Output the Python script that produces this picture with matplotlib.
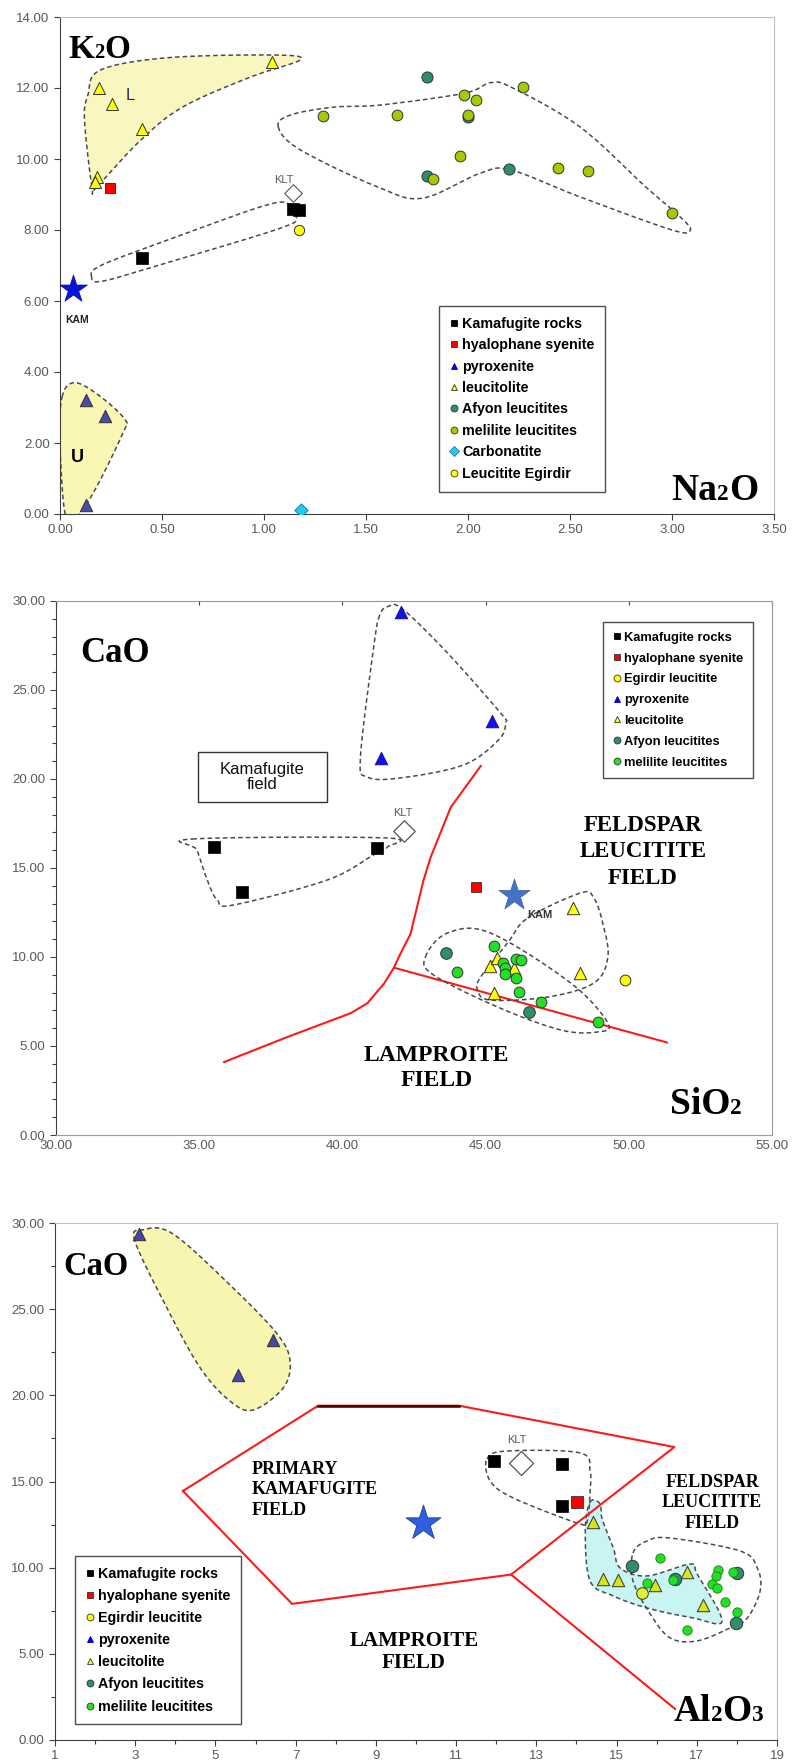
import numpy as np
import matplotlib.pyplot as plt
from matplotlib.lines import Line2D
from matplotlib.patches import Rectangle
from matplotlib.offsetbox import TextArea, HPacker, AnchoredOffsetbox
from matplotlib.ticker import MultipleLocator, FixedLocator, FormatStrFormatter

plt.rcParams['font.family'] = ['Liberation Sans', 'DejaVu Sans']

# ---------------- panel 1 : K2O vs Na2O ----------------
p1_kam_x = [0.40, 1.14, 1.17]
p1_kam_y = [7.20, 8.60, 8.55]
p1_hyal_x = [0.245]
p1_hyal_y = [9.17]
p1_pyrox_x = [0.127, 0.22, 0.127]
p1_pyrox_y = [3.20, 2.75, 0.25]
p1_leuc_x = [0.19, 0.255, 0.40, 1.04, 0.18, 0.17]
p1_leuc_y = [12.0, 11.55, 10.85, 12.73, 9.50, 9.35]
p1_afyon_x = [1.80, 2.00, 1.80, 2.20]
p1_afyon_y = [12.30, 11.18, 9.53, 9.72]
p1_melil_x = [1.29, 1.65, 1.98, 2.04, 2.00, 2.27, 1.96, 1.83, 2.44, 2.59, 3.00]
p1_melil_y = [11.20, 11.25, 11.80, 11.66, 11.24, 12.03, 10.08, 9.44, 9.75, 9.66, 8.48]
p1_carb_x = [1.18]
p1_carb_y = [0.10]
p1_egir_x = [1.17]
p1_egir_y = [8.00]
p1_klt_x = [1.14]
p1_klt_y = [9.05]
p1_star_x = [0.065]
p1_star_y = [6.33]

p1_hull_L_x = [0.157, 0.12, 0.137, 0.196, 0.52, 1.04, 1.18, 0.93, 0.60, 0.39, 0.18]
p1_hull_L_y = [9.21, 11.1, 11.8, 12.5, 12.85, 12.93, 12.8, 12.3, 11.46, 10.5, 9.21]
p1_hull_U_x = [0.01, 0.074, 0.20, 0.32, 0.31, 0.18, 0.08, 0.025, 0.0]
p1_hull_U_y = [3.3, 3.7, 3.3, 2.65, 2.3, 0.77, -0.1, 0.0, 2.0]
p1_hull_kam_x = [0.155, 0.20, 0.52, 1.01, 1.13, 1.16, 1.08, 0.52, 0.21]
p1_hull_kam_y = [6.68, 7.00, 7.70, 8.70, 8.70, 8.37, 8.05, 7.07, 6.56]
p1_hull_mel_x = [1.07, 1.13, 1.34, 1.57, 1.98, 2.11, 2.22, 2.55, 2.87, 3.04, 3.09,
                 3.00, 2.55, 2.21, 2.06, 1.78, 1.57, 1.18]
p1_hull_mel_y = [10.9, 11.24, 11.46, 11.52, 11.85, 12.15, 12.0, 10.9, 9.22, 8.37, 8.0,
                 8.0, 8.93, 9.69, 9.6, 8.9, 9.18, 10.25]

# ---------------- panel 2 : CaO vs SiO2 ----------------
p2_kam_x = [35.5, 41.2, 36.5]
p2_kam_y = [16.2, 16.1, 13.65]
p2_hyal_x = [44.65]
p2_hyal_y = [13.93]
p2_pyrox_x = [42.06, 45.24, 41.36]
p2_pyrox_y = [29.4, 23.26, 21.2]
p2_leuc_x = [48.05, 48.30, 45.15, 45.40, 45.98, 45.30]
p2_leuc_y = [12.75, 9.10, 9.50, 9.95, 9.38, 7.98]
p2_egir_x = [49.86]
p2_egir_y = [8.70]
p2_afyon_x = [43.6, 46.5]
p2_afyon_y = [10.2, 6.9]
p2_melil_x = [45.28, 44.0, 45.6, 45.66, 45.66, 46.05, 46.22, 46.05, 46.16, 46.92, 48.92]
p2_melil_y = [10.6, 9.16, 9.66, 9.38, 9.05, 9.90, 9.83, 8.80, 8.03, 7.47, 6.35]
p2_klt_x = [42.15]
p2_klt_y = [17.1]
p2_star_x = [45.98]
p2_star_y = [13.5]

p2_curve_x = [35.87, 38.07, 40.30, 40.87, 41.45, 41.80, 42.00, 42.38, 42.50, 42.83, 43.08, 43.78, 44.83]
p2_curve_y = [4.10, 5.50, 6.85, 7.40, 8.50, 9.40, 10.10, 11.30, 12.10, 14.30, 15.60, 18.40, 20.73]
p2_line_x = [41.80, 51.33]
p2_line_y = [9.40, 5.20]

p2_hull_pyr_x = [41.30, 41.10, 40.63, 40.87, 42.03, 44.23, 45.45, 45.70, 45.52, 43.67, 42.10, 41.60]
p2_hull_pyr_y = [29.20, 27.50, 21.24, 20.11, 20.06, 20.79, 22.19, 23.15, 23.71, 27.08, 29.55, 29.70]
p2_hull_kam_x = [34.76, 41.50, 41.57, 41.08, 39.48, 36.19, 35.63, 35.28, 34.93]
p2_hull_kam_y = [16.63, 16.69, 16.18, 15.73, 14.33, 12.92, 13.20, 14.33, 16.00]
p2_hull_mel_x = [42.9, 43.67, 45.17, 47.97, 49.27, 48.92, 47.62, 45.42, 43.18]
p2_hull_mel_y = [10.0, 11.35, 11.35, 8.54, 6.29, 5.79, 5.90, 7.19, 8.99]
p2_hull_leu_x = [46.47, 48.32, 48.78, 49.09, 49.27, 48.78, 47.17, 45.17, 44.72, 44.83, 45.77]
p2_hull_leu_y = [12.19, 13.60, 13.31, 11.91, 10.00, 8.54, 7.75, 7.58, 8.15, 8.88, 10.79]

# ---------------- panel 3 : CaO vs Al2O3 ----------------
p3_xticks = [1, 3, 5, 7, 9, 11, 13, 15, 17, 19]
p3_kam_x = [11.95, 13.64, 13.65]
p3_kam_y = [16.2, 16.0, 13.6]
p3_hyal_x = [14.02]
p3_hyal_y = [13.8]
p3_pyrox_x = [3.09, 6.44, 5.56]
p3_pyrox_y = [29.37, 23.2, 21.2]
p3_leuc_x = [14.42, 14.67, 15.04, 15.96, 16.76, 17.16]
p3_leuc_y = [12.65, 9.34, 9.28, 9.00, 9.77, 7.82]
p3_egir_x = [15.64]
p3_egir_y = [8.55]
p3_afyon_x = [15.39, 16.46, 18.00, 17.98]
p3_afyon_y = [10.10, 9.34, 9.70, 6.80]
p3_melil_x = [16.09, 15.76, 16.41, 17.53, 17.48, 17.91, 17.38, 17.51, 17.71, 18.01, 16.76]
p3_melil_y = [10.56, 9.11, 9.28, 9.87, 9.52, 9.75, 9.05, 8.82, 8.01, 7.43, 6.38]
p3_klt_x = [12.62]
p3_klt_y = [16.1]
p3_star_x = [10.18]
p3_star_y = [12.6]

p3_field_x = [4.19, 7.56, 11.07, 16.44, 12.37, 6.91, 4.19]
p3_field_y = [14.45, 19.4, 19.4, 17.0, 9.6, 7.9, 14.45]
p3_top_x = [7.56, 11.07]
p3_top_y = [19.4, 19.4]
p3_branch_x = [12.37, 16.46]
p3_branch_y = [9.6, 1.8]

p3_hull_pyr_x = [2.99, 3.19, 3.94, 5.44, 6.54, 6.86, 6.69, 5.94, 5.36, 4.62, 3.79]
p3_hull_pyr_y = [28.96, 29.6, 29.37, 26.23, 23.56, 22.0, 20.43, 19.15, 19.67, 21.59, 25.07]
p3_hull_kam_x = [11.77, 12.27, 14.09, 14.34, 14.34, 14.27, 14.02, 12.42, 11.85]
p3_hull_kam_y = [16.31, 16.77, 16.66, 15.61, 14.45, 12.71, 12.59, 14.05, 15.03]
p3_hull_leu_x = [14.34, 14.59, 14.64, 14.92, 15.09, 15.76, 16.84, 17.01, 17.63, 16.91,
                 15.76, 14.92, 14.34, 14.22]
p3_hull_leu_y = [13.81, 13.70, 12.83, 11.14, 9.98, 9.52, 10.21, 9.63, 6.91, 7.08,
                 7.66, 8.36, 9.23, 12.13]
p3_hull_mel_x = [15.41, 15.76, 16.34, 18.08, 18.51, 18.58, 18.26, 17.83, 17.01, 16.34, 15.84, 15.41]
p3_hull_mel_y = [10.85, 11.55, 11.72, 10.97, 9.98, 8.65, 7.08, 6.50, 5.75, 5.92, 7.31, 9.23]

EDGE = '#333333'
TEAL = '#2f8f6a'


def smooth_closed(xs, ys, n=24):
    pts = np.column_stack([xs, ys]).astype(float)
    m = len(pts)
    t = np.linspace(0, 1, n, endpoint=False)[:, None]
    segs = []
    for i in range(m):
        p0, p1, p2, p3 = pts[(i - 1) % m], pts[i], pts[(i + 1) % m], pts[(i + 2) % m]
        segs.append(0.5 * (2 * p1 + (-p0 + p2) * t + (2 * p0 - 5 * p1 + 4 * p2 - p3) * t ** 2
                           + (-p0 + 3 * p1 - 3 * p2 + p3) * t ** 3))
    out = np.vstack(segs + [pts[:1]])
    return out[:, 0], out[:, 1]


def hull(ax, xs, ys, fill=None):
    x, y = smooth_closed(xs, ys)
    if fill:
        ax.fill(x, y, color=fill, lw=0, zorder=1)
    ax.plot(x, y, color='#4a4a4a', lw=1.1, ls=(0, (3, 2)), zorder=2)


def chem_label(ax, parts, loc, anchor, size):
    kids = []
    for txt, sub in parts:
        kids.append(TextArea(txt, textprops=dict(family='Liberation Serif', weight='bold',
                                                 size=size * 0.62 if sub else size)))
    box = HPacker(children=kids, align='baseline', pad=0, sep=0)
    ab = AnchoredOffsetbox(loc=loc, child=box, pad=0, borderpad=0, frameon=False,
                           bbox_to_anchor=anchor, bbox_transform=ax.transAxes)
    ax.add_artist(ab)


def legend(ax, items, anchor, loc, size, spacing):
    handles = [Line2D([], [], ls='none', marker=m, markersize=5, mfc=c, mec=ec, mew=0.6, label=lab)
               for lab, m, c, ec in items]
    leg = ax.legend(handles=handles, loc=loc, bbox_to_anchor=anchor, frameon=True, fancybox=False,
                    edgecolor='#222222', prop=dict(family='Liberation Sans', weight='bold', size=size),
                    handlelength=0.6, handletextpad=0.25, labelspacing=spacing, borderpad=0.75,
                    borderaxespad=0)
    leg.get_frame().set_linewidth(1.0)
    leg.set_zorder(10)


def style_axes(ax, top_right='#bfbfbf'):
    for s in ['left', 'bottom']:
        ax.spines[s].set_color('#404040')
    for s in ['top', 'right']:
        ax.spines[s].set_color(top_right)
    ax.tick_params(colors='#404040', labelcolor='#595959', labelsize=9.5, length=4, width=0.8)
    ax.tick_params(which='minor', colors='#404040', length=3, width=0.8)


fig = plt.figure(figsize=(8.03, 17.63), dpi=100, facecolor='white')

# ================= panel 1 =================
ax1 = fig.add_axes([60 / 803, 1 - 514 / 1763, 714 / 803, 497 / 1763])
ax1.set_xlim(0, 3.5)
ax1.set_ylim(0, 14)
ax1.xaxis.set_major_locator(MultipleLocator(0.5))
ax1.yaxis.set_major_locator(MultipleLocator(2))
ax1.xaxis.set_major_formatter(FormatStrFormatter('%.2f'))
ax1.yaxis.set_major_formatter(FormatStrFormatter('%.2f'))
style_axes(ax1)

hull(ax1, p1_hull_L_x, p1_hull_L_y, fill='#faf6c0')
hull(ax1, p1_hull_U_x, p1_hull_U_y, fill='#faf6b4')
hull(ax1, p1_hull_kam_x, p1_hull_kam_y)
hull(ax1, p1_hull_mel_x, p1_hull_mel_y)

ax1.scatter(p1_leuc_x, p1_leuc_y, s=75, marker='^', c='#ffff00', edgecolors=EDGE, lw=0.7, zorder=3)
ax1.scatter(p1_hyal_x, p1_hyal_y, s=60, marker='s', c='#ff0000', edgecolors=EDGE, lw=0.7, zorder=3)
ax1.scatter(p1_kam_x, p1_kam_y, s=64, marker='s', c='black', edgecolors='black', lw=0.5, zorder=3)
ax1.scatter(p1_klt_x, p1_klt_y, s=80, marker='D', c='white', edgecolors='#555555', lw=0.8, zorder=3)
ax1.scatter(p1_egir_x, p1_egir_y, s=55, marker='o', c='#ffff00', edgecolors=EDGE, lw=0.7, zorder=3)
ax1.scatter(p1_star_x, p1_star_y, s=440, marker='*', c='#0a14d8', edgecolors='#0a14a0', lw=0.5, zorder=3)
ax1.scatter(p1_pyrox_x, p1_pyrox_y, s=80, marker='^', c='#4a4aa8', edgecolors=EDGE, lw=0.7, zorder=3)
ax1.scatter(p1_carb_x, p1_carb_y, s=45, marker='D', c='#22ccf0', edgecolors='#2277aa', lw=0.7, zorder=3)
ax1.scatter(p1_afyon_x, p1_afyon_y, s=64, marker='o', c=TEAL, edgecolors=EDGE, lw=0.7, zorder=3)
ax1.scatter(p1_melil_x, p1_melil_y, s=60, marker='o', c='#a2cc00', edgecolors=EDGE, lw=0.7, zorder=4)

ax1.text(p1_klt_x[0] - 0.045, p1_klt_y[0] + 0.35, 'KLT', fontsize=8, color='#595959', ha='center', va='center')
ax1.text(0.083, 5.46, 'KAM', fontsize=7.5, weight='bold', color='#222222', ha='center', va='center')
ax1.text(0.343, 11.8, 'L', fontsize=12, color='#1f2d5a', ha='center', va='center')
ax1.text(0.083, 1.58, 'U', fontsize=13, weight='bold', color='black', ha='center', va='center')

chem_label(ax1, [('K', False), ('2', True), ('O', False)], 'upper left', (0.012, 0.965), 24)
chem_label(ax1, [('Na', False), ('2', True), ('O', False)], 'lower right', (0.978, 0.012), 27)

legend(ax1, [('Kamafugite rocks', 's', 'black', 'black'),
             ('hyalophane syenite', 's', '#ff0000', EDGE),
             ('pyroxenite', '^', '#0000ff', '#0000aa'),
             ('leucitolite', '^', '#ffff00', EDGE),
             ('Afyon leucitites', 'o', TEAL, EDGE),
             ('melilite leucitites', 'o', '#a2cc00', EDGE),
             ('Carbonatite', 'D', '#22ccf0', '#2277aa'),
             ('Leucitite Egirdir', 'o', '#ffff00', EDGE)],
       anchor=(0.531, 0.4185), loc='upper left', size=10.3, spacing=0.52)

# ================= panel 2 =================
ax2 = fig.add_axes([56 / 803, 1 - 1135 / 1763, 716 / 803, 534 / 1763])
ax2.set_xlim(30, 55)
ax2.set_ylim(0, 30)
ax2.xaxis.set_major_locator(MultipleLocator(5))
ax2.yaxis.set_major_locator(MultipleLocator(5))
ax2.yaxis.set_minor_locator(MultipleLocator(1))
ax2.xaxis.set_major_formatter(FormatStrFormatter('%.2f'))
ax2.yaxis.set_major_formatter(FormatStrFormatter('%.2f'))
style_axes(ax2, top_right='#999999')
ax2.spines['bottom'].set_color('#a0a0a0')
ax2.tick_params(axis='x', bottom=False, top=True, direction='in', length=3)

ax2.plot(p2_curve_x, p2_curve_y, color='#ff1a1a', lw=1.5, zorder=2)
ax2.plot(p2_line_x, p2_line_y, color='#ff1a1a', lw=1.5, zorder=2)
hull(ax2, p2_hull_pyr_x, p2_hull_pyr_y)
hull(ax2, p2_hull_kam_x, p2_hull_kam_y)
hull(ax2, p2_hull_mel_x, p2_hull_mel_y)
hull(ax2, p2_hull_leu_x, p2_hull_leu_y)

ax2.scatter(p2_pyrox_x, p2_pyrox_y, s=85, marker='^', c='#1010e8', edgecolors='#101080', lw=0.5, zorder=3)
ax2.scatter(p2_kam_x, p2_kam_y, s=70, marker='s', c='black', edgecolors='black', lw=0.5, zorder=3)
ax2.scatter(p2_klt_x, p2_klt_y, s=120, marker='D', c='white', edgecolors='#555555', lw=0.9, zorder=3)
ax2.scatter(p2_hyal_x, p2_hyal_y, s=55, marker='s', c='#ff0000', edgecolors=EDGE, lw=0.6, zorder=3)
ax2.scatter(p2_star_x, p2_star_y, s=560, marker='*', c='#4472c4', edgecolors='#3a5fa8', lw=0.5, zorder=3)
ax2.scatter(p2_leuc_x, p2_leuc_y, s=80, marker='^', c='#ffff00', edgecolors=EDGE, lw=0.7, zorder=4)
ax2.scatter(p2_egir_x, p2_egir_y, s=60, marker='o', c='#ffff00', edgecolors=EDGE, lw=0.7, zorder=3)
ax2.scatter(p2_afyon_x, p2_afyon_y, s=70, marker='o', c=TEAL, edgecolors=EDGE, lw=0.7, zorder=3)
ax2.scatter(p2_melil_x, p2_melil_y, s=60, marker='o', c='#22e022', edgecolors=EDGE, lw=0.7, zorder=4)

ax2.text(42.1, 18.1, 'KLT', fontsize=8, color='#595959', ha='center', va='center')
ax2.text(46.89, 12.36, 'KAM', fontsize=8, weight='bold', color='#333333', ha='center', va='center')
ax2.add_patch(Rectangle((0.198, 0.6236), 0.180, 0.0936, transform=ax2.transAxes,
                        fc='white', ec='#333333', lw=1.0, zorder=5))
ax2.text(0.288, 0.6704, 'Kamafugite\nfield', transform=ax2.transAxes, fontsize=12,
         ha='center', va='center', linespacing=1.05, color='#111111', zorder=6)
ax2.text(50.49, 15.9, 'FELDSPAR\nLEUCITITE\nFIELD', family='Liberation Serif', weight='bold',
         fontsize=16.5, ha='center', va='center', linespacing=1.35)
ax2.text(43.29, 3.79, 'LAMPROITE\nFIELD', family='Liberation Serif', weight='bold',
         fontsize=17, ha='center', va='center', linespacing=1.25)

chem_label(ax2, [('CaO', False)], 'upper left', (0.034, 0.932), 25)
chem_label(ax2, [('SiO', False), ('2', True)], 'lower right', (0.958, 0.025), 27)

legend(ax2, [('Kamafugite rocks', 's', 'black', 'black'),
             ('hyalophane syenite', 's', '#ff0000', EDGE),
             ('Egirdir leucitite', 'o', '#ffff00', EDGE),
             ('pyroxenite', '^', '#0000ff', '#0000aa'),
             ('leucitolite', '^', '#ffff00', EDGE),
             ('Afyon leucitites', 'o', TEAL, EDGE),
             ('melilite leucitites', 'o', '#22e022', EDGE)],
       anchor=(0.764, 0.9607), loc='upper left', size=9.3, spacing=0.68)

# ================= panel 3 =================
ax3 = fig.add_axes([55 / 803, 1 - 1740 / 1763, 722 / 803, 517 / 1763])
ax3.set_xlim(1, 19)
ax3.set_ylim(0, 30)
ax3.xaxis.set_major_locator(FixedLocator(p3_xticks))
ax3.xaxis.set_minor_locator(MultipleLocator(1))
ax3.yaxis.set_major_locator(MultipleLocator(5))
ax3.yaxis.set_minor_locator(MultipleLocator(2.5))
ax3.xaxis.set_major_formatter(FormatStrFormatter('%d'))
ax3.yaxis.set_major_formatter(FormatStrFormatter('%.2f'))
style_axes(ax3)

hull(ax3, p3_hull_pyr_x, p3_hull_pyr_y, fill='#f8f5b0')
hull(ax3, p3_hull_leu_x, p3_hull_leu_y, fill='#c8f4f4')
hull(ax3, p3_hull_kam_x, p3_hull_kam_y)
hull(ax3, p3_hull_mel_x, p3_hull_mel_y)
ax3.plot(p3_field_x, p3_field_y, color='#ff1a1a', lw=1.5, zorder=2)
ax3.plot(p3_top_x, p3_top_y, color='#3a0000', lw=1.8, zorder=2)
ax3.plot(p3_branch_x, p3_branch_y, color='#ff1a1a', lw=1.5, zorder=2)

ax3.scatter(p3_pyrox_x, p3_pyrox_y, s=80, marker='^', c='#4646a8', edgecolors=EDGE, lw=0.7, zorder=3)
ax3.scatter(p3_kam_x, p3_kam_y, s=75, marker='s', c='black', edgecolors='black', lw=0.5, zorder=3)
ax3.scatter(p3_klt_x, p3_klt_y, s=150, marker='D', c='white', edgecolors='#555555', lw=0.9, zorder=3)
ax3.scatter(p3_hyal_x, p3_hyal_y, s=75, marker='s', c='#ff0000', edgecolors=EDGE, lw=0.6, zorder=3)
ax3.scatter(p3_star_x, p3_star_y, s=700, marker='*', c='#2f5fe0', edgecolors='#1f3f90', lw=0.6, zorder=3)
ax3.scatter(p3_afyon_x, p3_afyon_y, s=80, marker='o', c=TEAL, edgecolors=EDGE, lw=0.7, zorder=3)
ax3.scatter(p3_melil_x, p3_melil_y, s=45, marker='o', c='#22e022', edgecolors='#1a7a1a', lw=0.6, zorder=4)
ax3.scatter(p3_leuc_x, p3_leuc_y, s=80, marker='^', c='#d6e61a', edgecolors=EDGE, lw=0.7, zorder=4)
ax3.scatter(p3_egir_x, p3_egir_y, s=70, marker='o', c='#e0f030', edgecolors=EDGE, lw=0.7, zorder=4)

ax3.text(12.52, 17.4, 'KLT', fontsize=8, color='#595959', ha='center', va='center')
ax3.text(5.91, 14.51, 'PRIMARY\nKAMAFUGITE\nFIELD', family='Liberation Serif', weight='bold',
         fontsize=13, ha='left', va='center', linespacing=1.25)
ax3.text(17.38, 13.76, 'FELDSPAR\nLEUCITITE\nFIELD', family='Liberation Serif', weight='bold',
         fontsize=13, ha='center', va='center', linespacing=1.25)
ax3.text(9.95, 5.1, 'LAMPROITE\nFIELD', family='Liberation Serif', weight='bold',
         fontsize=15, ha='center', va='center', linespacing=1.15)

chem_label(ax3, [('CaO', False)], 'upper left', (0.011, 0.945), 23.5)
chem_label(ax3, [('Al', False), ('2', True), ('O', False), ('3', True)], 'lower right', (0.981, 0.022), 27)

legend(ax3, [('Kamafugite rocks', 's', 'black', 'black'),
             ('hyalophane syenite', 's', '#ff0000', EDGE),
             ('Egirdir leucitite', 'o', '#ffff00', EDGE),
             ('pyroxenite', '^', '#0000ff', '#0000aa'),
             ('leucitolite', '^', '#ffff00', EDGE),
             ('Afyon leucitites', 'o', TEAL, EDGE),
             ('melilite leucitites', 'o', '#22e022', EDGE)],
       anchor=(0.0277, 0.356), loc='upper left', size=10.3, spacing=0.57)

fig.savefig('out.png', dpi=100, facecolor='white')
